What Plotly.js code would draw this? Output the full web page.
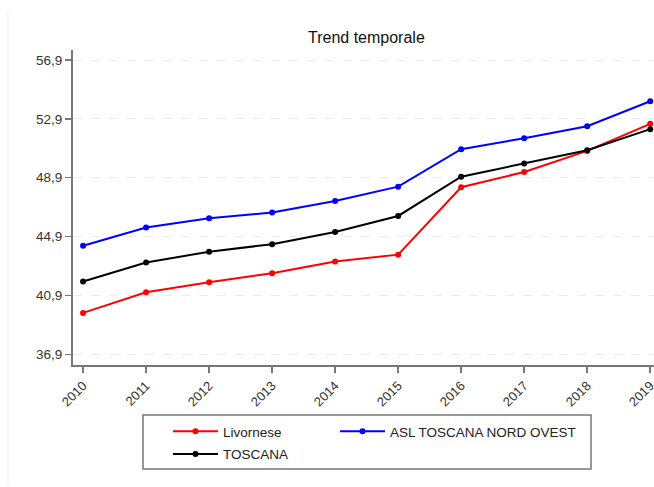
<!DOCTYPE html>
<html>
<head>
<meta charset="utf-8">
<script src="https://cdn.plot.ly/plotly-3.0.1.min.js"></script>
<style>html,body{margin:0;padding:0;background:#fff;}#chart{width:654px;height:487px;}</style>
</head>
<body>
<div id="chart"></div>
<script>
const years = [2010, 2011, 2012, 2013, 2014, 2015, 2016, 2017, 2018, 2019];
const livornese = [39.71, 41.11, 41.79, 42.41, 43.20, 43.67, 48.25, 49.29, 50.72, 52.56];
const aslNordOvest = [44.28, 45.51, 46.15, 46.53, 47.32, 48.29, 50.84, 51.58, 52.40, 54.10];
const toscana = [41.84, 43.13, 43.87, 44.38, 45.21, 46.30, 48.97, 49.86, 50.77, 52.20];
const yTicks = [36.9, 40.9, 44.9, 48.9, 52.9, 56.9];
const seriesNames = ['Livornese', 'ASL TOSCANA NORD OVEST', 'TOSCANA'];

const mk = (y, name, color, legend) => ({
  x: years, y: y, name: name, type: 'scatter', mode: 'lines+markers',
  line: {color: color, width: 2}, marker: {color: color, size: 6},
  legend: legend, showlegend: true
});

const traces = [
  mk(livornese, seriesNames[0], '#ff0000', 'legend'),
  mk(aslNordOvest, seriesNames[1], '#0000ff', 'legend3'),
  mk(toscana, seriesNames[2], '#000000', 'legend2')
];

const legBase = {bgcolor: 'rgba(0,0,0,0)', borderwidth: 0, itemwidth: 45, visible: true,
                 font: {size: 13.5, color: '#222'}, xanchor: 'left', yanchor: 'top'};

const layout = {
  width: 654, height: 487,
  margin: {l: 73, r: 0, t: 50, b: 122},
  paper_bgcolor: '#fff', plot_bgcolor: '#fff',
  separators: ',.',
  showlegend: true,
  font: {family: 'Liberation Sans, Arial, sans-serif', color: '#333', size: 12},
  title: {text: 'Trend temporale', xref: 'paper', x: 0.505, xanchor: 'center', y: 0.924, yanchor: 'middle',
          font: {size: 16, color: '#111'}},
  xaxis: {
    range: [2009.84, 2019.06], tickvals: years, ticktext: years.map(String),
    tickangle: -45, ticks: 'outside', ticklen: 6, tickcolor: '#777', tickwidth: 1.5,
    showline: true, linecolor: '#777', linewidth: 2, showgrid: false, zeroline: false,
    ticklabeloverflow: 'allow',
    tickfont: {size: 13, color: '#333'}
  },
  yaxis: {
    range: [36.17, 57.58], tickvals: yTicks, tickformat: '.1f',
    ticks: 'outside', ticklen: 6, tickcolor: '#777', tickwidth: 1.5,
    showline: true, linecolor: '#777', linewidth: 2,
    showgrid: true, gridcolor: '#ececec', griddash: 'dash', gridwidth: 1, zeroline: false,
    tickfont: {size: 13.5, color: '#333'}
  },
  legend: Object.assign({}, legBase, {x: 0.1635, y: -0.162}),
  legend3: Object.assign({}, legBase, {x: 0.451, y: -0.162}),
  legend2: Object.assign({}, legBase, {x: 0.1635, y: -0.234}),
  shapes: [
    {type: 'rect', xref: 'paper', yref: 'paper', x0: 0.1205, x1: 0.8916, y0: -0.33, y1: -0.159,
     line: {color: '#777', width: 1.5}, fillcolor: 'rgba(0,0,0,0)'},
    {type: 'line', xref: 'paper', yref: 'paper', x0: -0.112, x1: -0.112, y0: -0.38, y1: 1.12,
     line: {color: '#eeeeee', width: 1}}
  ]
};

Plotly.newPlot('chart', traces, layout, {displayModeBar: false, staticPlot: true});
</script>
</body>
</html>
